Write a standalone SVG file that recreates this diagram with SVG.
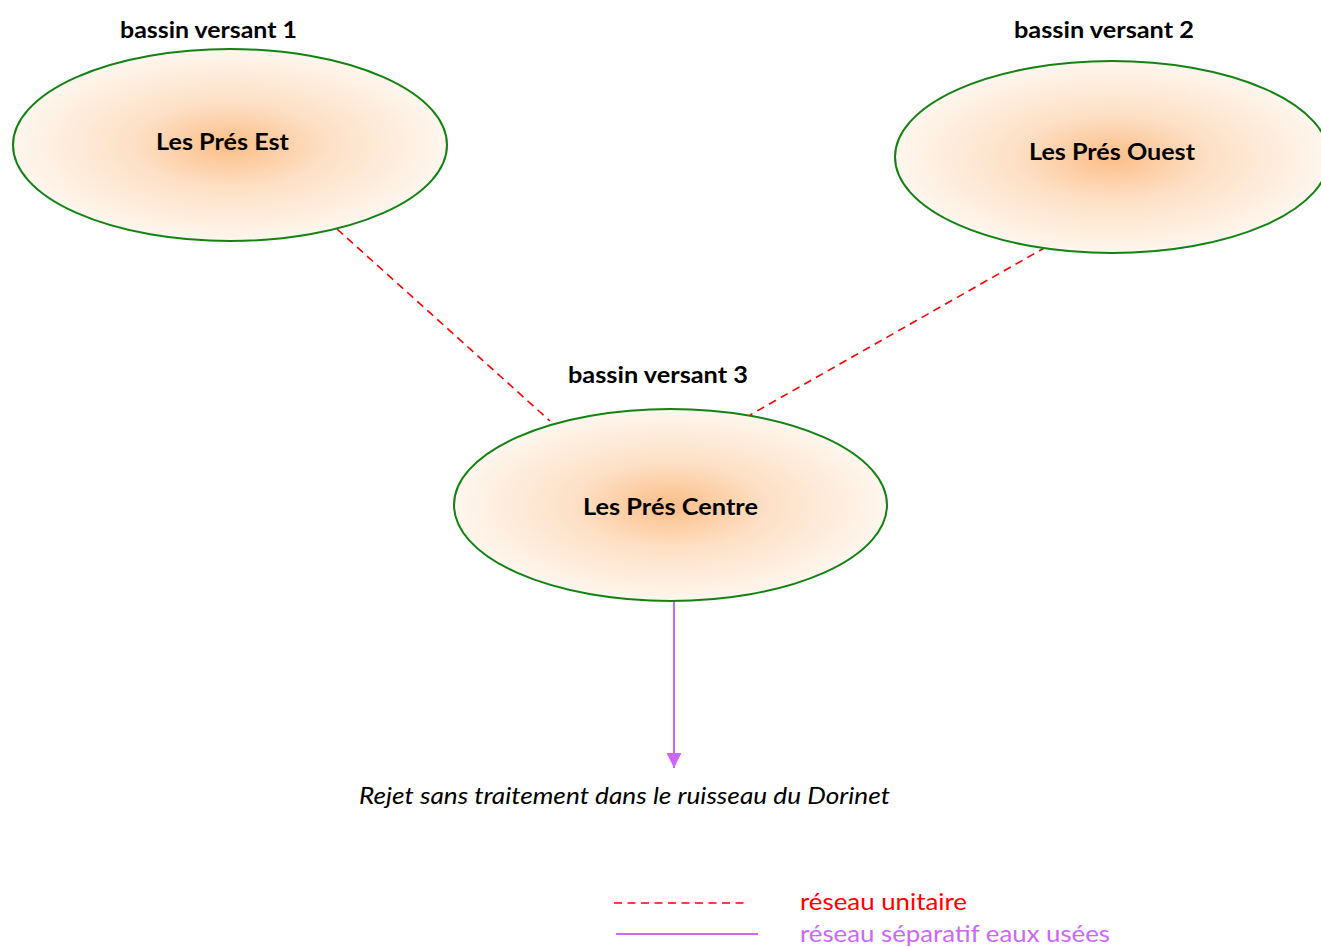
<svg xmlns="http://www.w3.org/2000/svg" width="1321" height="947" viewBox="0 0 1321 947">
  <style>
    .basin { fill: url(#basinFill); stroke: #128212; stroke-width: 2; }
    .name { font-family: Lato, "Liberation Sans", sans-serif; font-weight: bold; font-size: 23px; fill: #000; }
    .title { font-family: Lato, "Liberation Sans", sans-serif; font-weight: bold; font-size: 23px; fill: #000; }
    .unitaire { stroke: #ff0000; stroke-width: 1.6; stroke-dasharray: 8 5.5; fill: none; }
    .separatif { stroke: #cc66ff; stroke-width: 2; fill: none; }
    .note { font-family: Lato, "Liberation Sans", sans-serif; font-style: italic; font-size: 23px; fill: #000; }
    .legend { font-family: Lato, "Liberation Sans", sans-serif; font-size: 23px; }
  </style>
  <defs>
    <radialGradient id="basinFill" cx="0.5" cy="0.5" r="0.5">
      <stop offset="0" stop-color="#fbbe88"/>
      <stop offset="0.45" stop-color="#fde0c6"/>
      <stop offset="1" stop-color="#fef6ee"/>
    </radialGradient>
    <marker id="arrowPurple" viewBox="0 0 10 10" refX="10" refY="5" markerWidth="16" markerHeight="15" markerUnits="userSpaceOnUse" orient="auto">
      <path d="M0,0 L10,5 L0,10 z" fill="#cc66ff"/>
    </marker>
  </defs>

  <g id="connectors">
    <line class="unitaire" x1="337" y1="229" x2="550" y2="421"/>
    <line class="unitaire" x1="1046" y1="247" x2="750" y2="415"/>
    <line class="separatif" x1="674" y1="601" x2="674" y2="768" marker-end="url(#arrowPurple)"/>
  </g>

  <g id="bassin1">
    <ellipse class="basin" cx="230" cy="145" rx="217" ry="96"/>
    <text class="title" x="120" y="38" textLength="177" lengthAdjust="spacingAndGlyphs">bassin versant 1</text>
    <text class="name" x="156" y="150" textLength="133" lengthAdjust="spacingAndGlyphs">Les Prés Est</text>
  </g>

  <g id="bassin2">
    <ellipse class="basin" cx="1112" cy="157" rx="217" ry="96"/>
    <text class="title" x="1014" y="38" textLength="180" lengthAdjust="spacingAndGlyphs">bassin versant 2</text>
    <text class="name" x="1029" y="160" textLength="166" lengthAdjust="spacingAndGlyphs">Les Prés Ouest</text>
  </g>

  <g id="bassin3">
    <ellipse class="basin" cx="670.5" cy="505" rx="216.5" ry="96"/>
    <text class="title" x="568" y="383" textLength="180" lengthAdjust="spacingAndGlyphs">bassin versant 3</text>
    <text class="name" x="583" y="515" textLength="175" lengthAdjust="spacingAndGlyphs">Les Prés Centre</text>
  </g>

  <g id="rejet">
    <text class="note" x="359" y="804" textLength="531" lengthAdjust="spacingAndGlyphs">Rejet sans traitement dans le ruisseau du Dorinet</text>
  </g>

  <g id="legend">
    <line class="unitaire" x1="614" y1="903" x2="748" y2="903"/>
    <text class="legend" x="800" y="910" fill="#ff0000" textLength="167" lengthAdjust="spacingAndGlyphs">réseau unitaire</text>
    <line class="separatif" x1="616" y1="934" x2="758" y2="934"/>
    <text class="legend" x="800" y="942" fill="#cc66ff" textLength="310" lengthAdjust="spacingAndGlyphs">réseau séparatif eaux usées</text>
  </g>
</svg>
